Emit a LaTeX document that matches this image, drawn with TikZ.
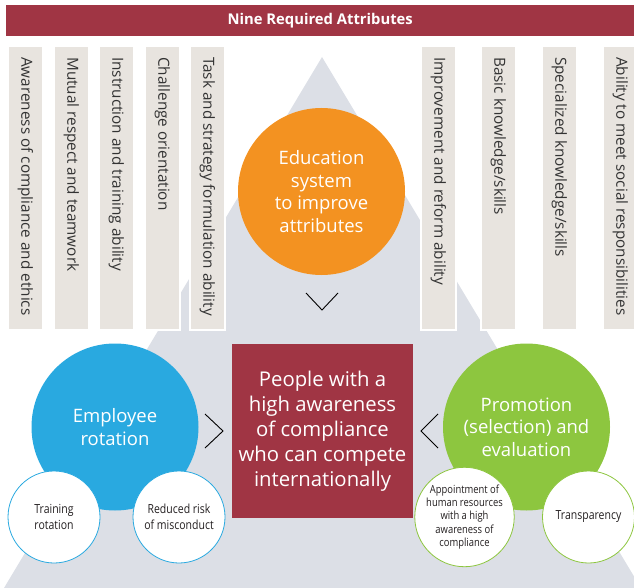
\documentclass[tikz,border=0pt]{standalone}
\usepackage{fontspec}
\setmainfont{Open Sans}
\newfontfamily\condfont[FakeStretch=0.84]{Open Sans}
\definecolor{titlered}{HTML}{A03544}
\definecolor{bargray}{HTML}{E8E4DF}
\definecolor{trigray}{HTML}{DCDFE6}
\definecolor{eduorange}{HTML}{F39221}
\definecolor{empblue}{HTML}{29A9E0}
\definecolor{promgreen}{HTML}{8DC63F}
\definecolor{bartext}{HTML}{333333}
\definecolor{smalltext}{HTML}{231F20}
\tikzset{
  attrbar/.style={fill=bargray, draw=white, line width=1.8pt, minimum width=35pt, minimum height=284pt, anchor=north west, inner sep=0pt},
  bartxt/.style={rotate=-90, anchor=west, inner sep=0pt, text=bartext, font=\fontsize{15.3}{17}\selectfont},
  bigcircle/.style={circle, minimum size=167pt, inner sep=0pt, text=white, align=center, font=\fontsize{18.5}{22.5}\selectfont},
  smallcircle/.style={circle, fill=white, line width=0.8pt, minimum size=92pt, inner sep=0pt, text=smalltext, align=center},
  chev/.style={draw=black, line width=0.9pt}
}
\begin{document}
\begin{tikzpicture}[x=1pt,y=-1pt]
\useasboundingbox (0,0) rectangle (634,588);
% background triangle
\fill[trigray] (322,57) -- (641,588) -- (4,588) -- cycle;
% title
\node[fill=titlered, minimum width=628pt, minimum height=31pt, anchor=north west, inner sep=0pt] (title) at (6,5) {};
\node[text=white, font=\bfseries\fontsize{14.8}{17}\selectfont] (titletext) at (title.center) {Nine Required Attributes};
% attribute bars
\node[attrbar] (b1) at (7,45) {};
\node[attrbar] (b2) at (53,45) {};
\node[attrbar] (b3) at (98,45) {};
\node[attrbar] (b4) at (144,45) {};
\node[attrbar] (b5) at (189,45) {};
\node[attrbar] (b6) at (420,45) {};
\node[attrbar] (b7) at (480,45) {};
\node[attrbar] (b8) at (541,45) {};
\node[attrbar] (b9) at (602,45) {};
\node[bartxt] (t1) at ([yshift=-12pt]b1.north) {Awareness of compliance and ethics};
\node[bartxt] (t2) at ([yshift=-12pt]b2.north) {Mutual respect and teamwork};
\node[bartxt] (t3) at ([yshift=-12pt]b3.north) {Instruction and training ability};
\node[bartxt] (t4) at ([yshift=-12pt]b4.north) {Challenge orientation};
\node[bartxt] (t5) at ([yshift=-12pt]b5.north) {Task and strategy formulation ability};
\node[bartxt] (t6) at ([yshift=-12pt]b6.north) {Improvement and reform ability};
\node[bartxt] (t7) at ([yshift=-12pt]b7.north) {Basic knowledge/skills};
\node[bartxt] (t8) at ([yshift=-12pt]b8.north) {Specialized knowledge/skills};
\node[bartxt] (t9) at ([yshift=-12pt]b9.north) {Ability to meet social responsibilities};
% education circle
\node[bigcircle, fill=eduorange] (edu) at (321.5,191.5) {Education\\system\\to improve\\attributes};
% central box
\node[fill=titlered, minimum width=181pt, minimum height=174pt, inner sep=0pt, text=white, align=center, font=\fontsize{20.3}{25}\selectfont] (people) at (322.5,431) {People with a\\high awareness\\of compliance\\who can compete\\internationally};
% employee rotation
\node[bigcircle, fill=empblue] (emp) at (115,427) {Employee\\rotation};
\node[smallcircle, draw=empblue, font=\condfont\fontsize{12.5}{16}\selectfont] (train) at (54,517) {Training\\rotation};
\node[smallcircle, draw=empblue, font=\condfont\fontsize{12.5}{16}\selectfont] (risk) at (179,517) {Reduced risk\\of misconduct};
% promotion
\node[bigcircle, fill=promgreen] (prom) at (526.5,427) {Promotion\\(selection) and\\evaluation};
\node[smallcircle, draw=promgreen, font=\condfont\fontsize{11.2}{13.2}\selectfont] (appt) at (464.5,517) {Appointment of\\human resources\\with a high\\awareness of\\compliance};
\node[smallcircle, draw=promgreen, font=\condfont\fontsize{12.5}{16}\selectfont] (transp) at (588.5,517) {Transparency};
% chevrons
\coordinate (cdown) at (322,310);
\draw[chev] ([xshift=-16pt,yshift=17pt]cdown) -- (cdown) -- ([xshift=16pt,yshift=17pt]cdown);
\coordinate (cright) at (223,431);
\draw[chev] ([xshift=-18pt,yshift=17pt]cright) -- (cright) -- ([xshift=-18pt,yshift=-17pt]cright);
\coordinate (cleft) at (421,431);
\draw[chev] ([xshift=17pt,yshift=17pt]cleft) -- (cleft) -- ([xshift=17pt,yshift=-17pt]cleft);
\end{tikzpicture}
\end{document}
